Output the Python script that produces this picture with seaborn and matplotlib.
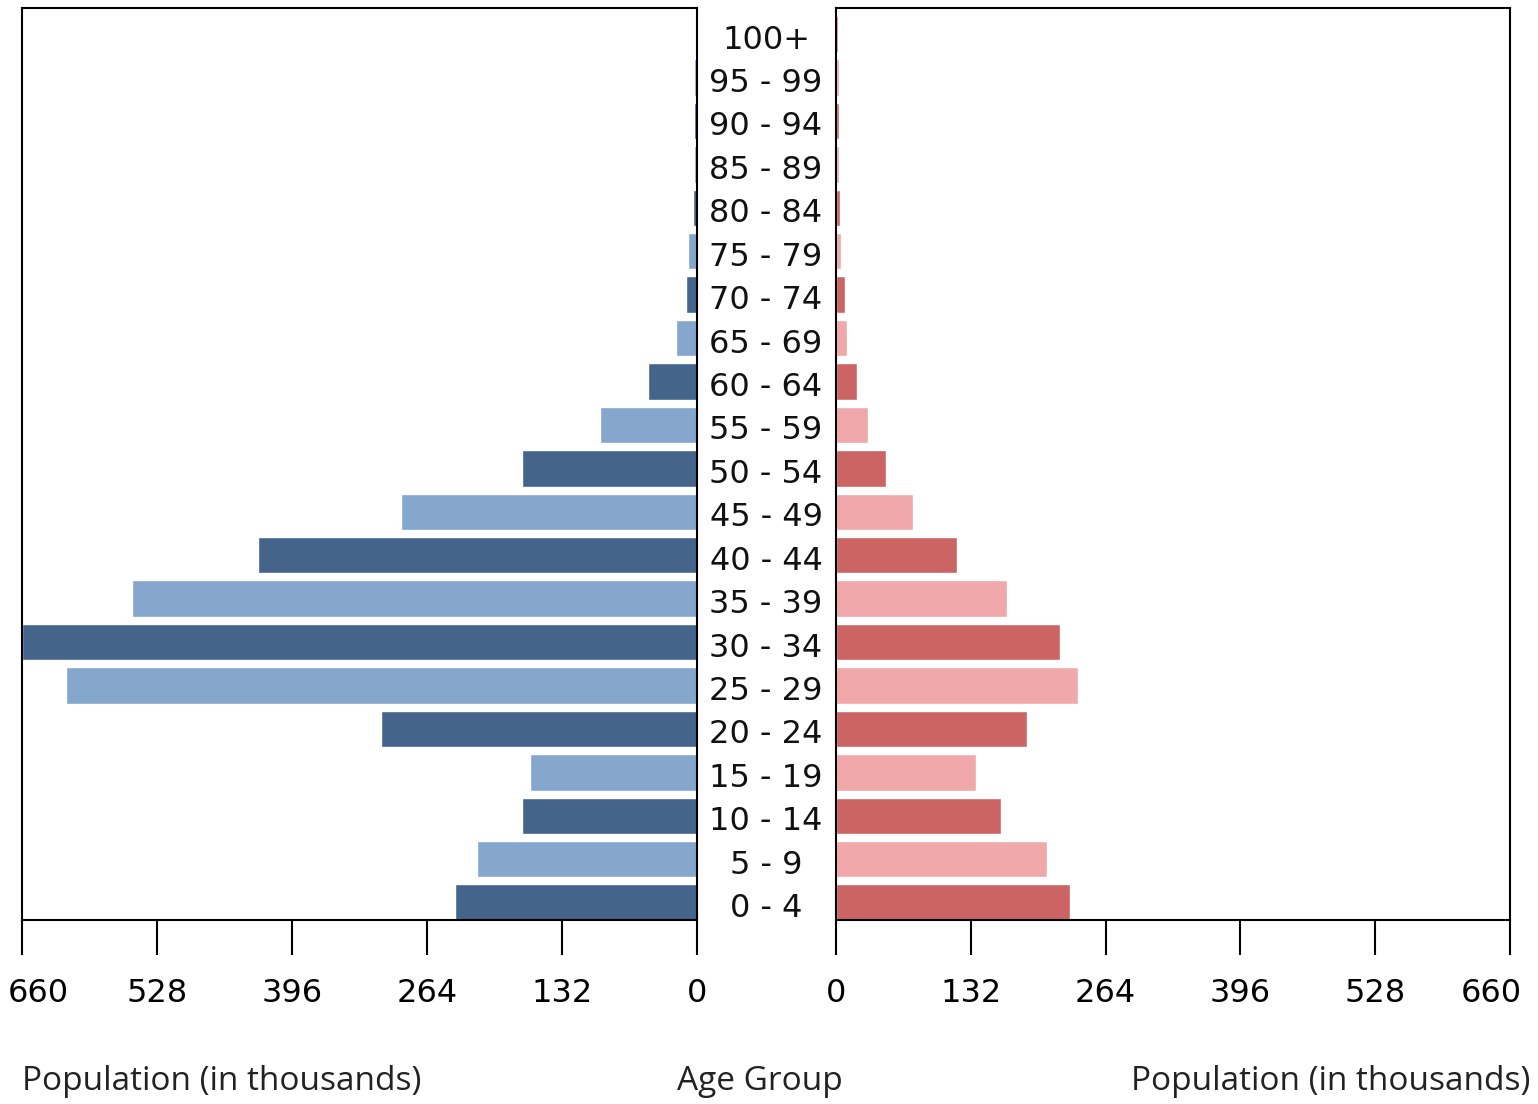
import matplotlib
matplotlib.use('Agg')
import matplotlib.pyplot as plt
import matplotlib.transforms as mtransforms
import pandas as pd
import seaborn as sns

# ── Data ─────────────────────────────────────────────────────
age_groups = ["100+", "95 - 99", "90 - 94", "85 - 89", "80 - 84", "75 - 79",
              "70 - 74", "65 - 69", "60 - 64", "55 - 59", "50 - 54", "45 - 49",
              "40 - 44", "35 - 39", "30 - 34", "25 - 29", "20 - 24", "15 - 19",
              "10 - 14", "5 - 9", "0 - 4"]
male = [2, 2.5, 2.5, 3, 3.5, 8.5, 11, 21, 48, 95, 171, 289,
        429, 552, 660, 617, 309, 163, 171, 215, 237]
female = [2, 2.5, 3, 3, 4, 4.5, 8.5, 10.5, 20.5, 31, 48.5, 75,
          118, 167, 219, 237, 187, 137, 162, 207, 229]
ticks = [0, 132, 264, 396, 528, 660]

male_dark, male_light = "#44648C", "#85A6CD"
female_dark, female_light = "#CC6464", "#F0A8AA"

df = pd.DataFrame({"age": age_groups, "male": male, "female": female})
# 0-4 (bottom) is dark, then alternates
n = len(age_groups)
male_pal = [male_dark if (n - 1 - i) % 2 == 0 else male_light for i in range(n)]
female_pal = [female_dark if (n - 1 - i) % 2 == 0 else female_light for i in range(n)]

sns.set_style("white")
plt.rcParams['font.family'] = ['DejaVu Sans']

fig = plt.figure(figsize=(15.38, 11.04), dpi=100)
ax_l = fig.add_axes([22 / 1538, 184 / 1104, 675 / 1538, 912 / 1104])
ax_r = fig.add_axes([836 / 1538, 184 / 1104, 674 / 1538, 912 / 1104])

sns.barplot(data=df, x="male", y="age", hue="age", order=age_groups,
            hue_order=age_groups, palette=male_pal, legend=False,
            width=0.84, saturation=1, ax=ax_l)
sns.barplot(data=df, x="female", y="age", hue="age", order=age_groups,
            hue_order=age_groups, palette=female_pal, legend=False,
            width=0.84, saturation=1, ax=ax_r)

ax_l.set_xlim(660, 0)
ax_r.set_xlim(0, 660)
for ax in (ax_l, ax_r):
    ax.set_ylim(n - 0.6, -0.6)
    ax.set_xticks(ticks)
    ax.set_xticklabels([str(t) for t in ticks])
    ax.set_yticks([])
    ax.set_xlabel("")
    ax.set_ylabel("")
    ax.tick_params(axis='x', direction='out', length=25, width=1.5,
                   pad=17, labelsize=23, bottom=True, colors='black')
    for sp in ax.spines.values():
        sp.set_visible(True)
        sp.set_linewidth(1.5)
        sp.set_color('black')

# edge tick labels are nudged inward so they stay inside the figure
fig.canvas.draw()
lbl_first = ax_l.get_xticklabels()[-1]   # 660 on the left panel
lbl_first.set_transform(lbl_first.get_transform() +
                        mtransforms.ScaledTranslation(16 / 100, 0, fig.dpi_scale_trans))
lbl_last = ax_r.get_xticklabels()[-1]    # 660 on the right panel
lbl_last.set_transform(lbl_last.get_transform() +
                       mtransforms.ScaledTranslation(-19 / 100, 0, fig.dpi_scale_trans))

# ── Age labels in the middle ─────────────────────────────────
trans = mtransforms.blended_transform_factory(fig.transFigure, ax_l.transData)
for i, lab in enumerate(age_groups):
    fig.text(766 / 1538, i + 0.14, lab, transform=trans, ha='center', va='center',
             fontsize=23, color='#111111')

# ── Axis titles ──────────────────────────────────────────────
fig.text(22 / 1538, 22 / 1104, "Population (in thousands)", ha='left',
         va='center', fontsize=24, family='Open Sans', color='#222222')
fig.text(760 / 1538, 22 / 1104, "Age Group", ha='center',
         va='center', fontsize=24, family='Open Sans', color='#222222')
fig.text(1530 / 1538, 22 / 1104, "Population (in thousands)", ha='right',
         va='center', fontsize=24, family='Open Sans', color='#222222')

fig.savefig("out.png", dpi=100)
